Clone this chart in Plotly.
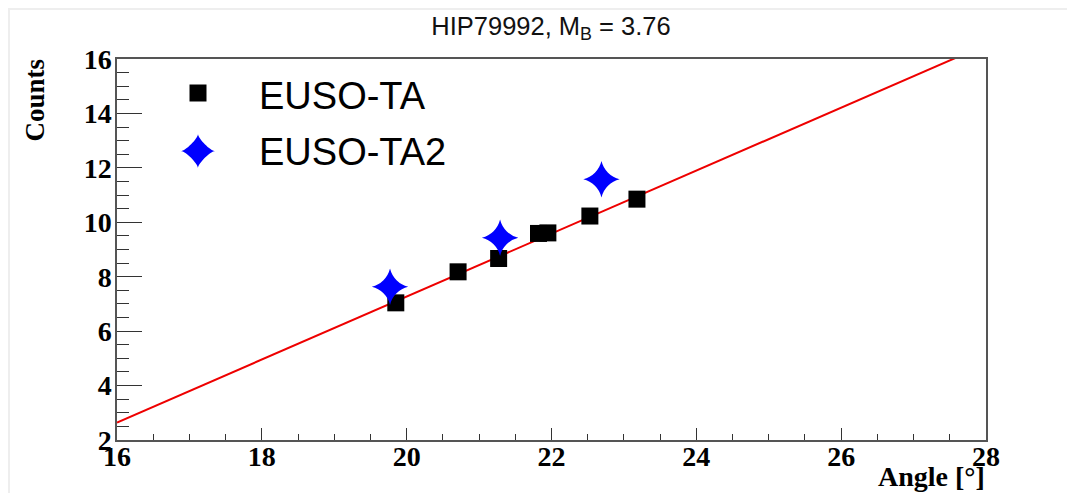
import numpy as np
import plotly.graph_objects as go

# ---- data ----
ta_angle = [19.85, 20.71, 21.27, 21.82, 21.95, 22.53, 23.18]
ta_counts = [7.04, 8.18, 8.67, 9.59, 9.61, 10.23, 10.85]
ta2_angle = [19.77, 21.29, 22.69]
ta2_counts = [7.63, 9.43, 11.58]
fit_slope = 1.157
fit_intercept = -15.87
fit_domain = [16, 28]
x_ticks = [16, 18, 20, 22, 24, 26, 28]
y_ticks = [2, 4, 6, 8, 10, 12, 14, 16]
series_names = ["EUSO-TA", "EUSO-TA2"]
title_text = "HIP79992, M<sub>B</sub> = 3.76"

# ---- geometry (page pixels; the page body adds an 8 px offset) ----
OFF = 8
PAGE_W, PAGE_H = 1075, 493
W, H = PAGE_W - OFF, PAGE_H - OFF
PL, PR, PT, PB = 117, 986, 59, 440          # plot frame in page pixels
L, T = PL - OFF, PT - OFF
R, B = W - (PR - OFF), H - (PB - OFF)
pw, ph = PR - PL, PB - PT


def px_x(px):
    return (px - PL) / pw


def px_y(py):
    return (PB - py) / ph


SERIF = "Liberation Serif"
SANS = "Liberation Sans"

fit_x = np.linspace(fit_domain[0], fit_domain[1], 50)
fit_y = fit_slope * fit_x + fit_intercept

fig = go.Figure()
fig.add_trace(go.Scatter(x=fit_x, y=fit_y, mode="lines", name="fit",
                         line=dict(color="#ee0000", width=2), showlegend=False,
                         hoverinfo="skip"))
fig.add_trace(go.Scatter(x=ta_angle, y=ta_counts, mode="markers", name=series_names[0],
                         marker=dict(symbol="square", size=17, color="black"),
                         showlegend=False, cliponaxis=False))
fig.add_trace(go.Scatter(x=ta2_angle, y=ta2_counts, mode="markers", name=series_names[1],
                         marker=dict(symbol="star-diamond", size=26, color="#0000ff"),
                         showlegend=False, cliponaxis=False))

axis_common = dict(showgrid=False, zeroline=False, showline=True, mirror=True,
                   linecolor="#555555", linewidth=1.5, ticks="inside",
                   tickcolor="#333333", tickwidth=1.2,
                   tickfont=dict(family=SERIF, size=28, color="black", weight="bold"))

fig.update_xaxes(range=[16, 28], tickmode="array", tickvals=x_ticks,
                 ticktext=[str(v) for v in x_ticks], ticklen=12, ticklabelstandoff=-9,
                 minor=dict(dtick=0.5, ticks="inside", ticklen=6, tickcolor="#333333",
                            tickwidth=1.2, showgrid=False),
                 **axis_common)
fig.update_yaxes(range=[2, 16], tickmode="array", tickvals=y_ticks,
                 ticktext=[str(v) for v in y_ticks], ticklen=25, ticklabelstandoff=-2,
                 minor=dict(dtick=0.5, ticks="inside", ticklen=12, tickcolor="#333333",
                            tickwidth=1.2, showgrid=False),
                 **axis_common)

# gray border strips of the canvas (left and top)
shapes = [
    dict(type="rect", xref="paper", yref="paper", x0=px_x(OFF - 2), x1=px_x(10),
         y0=px_y(PAGE_H + 5), y1=px_y(OFF - 2), fillcolor="#eeeeee", line=dict(width=0),
         layer="below"),
    dict(type="rect", xref="paper", yref="paper", x0=px_x(OFF - 2), x1=px_x(PAGE_W + 5),
         y0=px_y(10), y1=px_y(OFF - 2), fillcolor="#eeeeee", line=dict(width=0),
         layer="below"),
]

# legend symbols (pixel-sized shapes)
sq = 8.5
shapes.append(dict(type="rect", xref="paper", yref="paper", xsizemode="pixel", ysizemode="pixel",
                   xanchor=px_x(198), yanchor=px_y(93), x0=-sq, x1=sq, y0=-sq, y1=sq,
                   fillcolor="black", line=dict(width=0)))
rd, rc = 17.1, 12.6
star_path = (f"M{-rd},0 C{-rc},0 0,{rc} 0,{rd} C0,{rc} {rc},0 {rd},0 "
             f"C{rc},0 0,{-rc} 0,{-rd} C0,{-rc} {-rc},0 {-rd},0 Z")
shapes.append(dict(type="path", xref="paper", yref="paper", xsizemode="pixel", ysizemode="pixel",
                   xanchor=px_x(198), yanchor=px_y(151), path=star_path,
                   fillcolor="#0000ff", line=dict(width=0)))

annotations = [
    dict(text=series_names[0], xref="paper", yref="paper", x=px_x(257), y=px_y(96),
         xanchor="left", yanchor="middle", showarrow=False,
         font=dict(family=SANS, size=38, color="black")),
    dict(text=series_names[1], xref="paper", yref="paper", x=px_x(257), y=px_y(152),
         xanchor="left", yanchor="middle", showarrow=False,
         font=dict(family=SANS, size=38, color="black")),
    dict(text="<b>Counts</b>", xref="paper", yref="paper", x=px_x(34), y=px_y(57),
         xanchor="center", yanchor="top", textangle=-90, showarrow=False,
         font=dict(family=SERIF, size=27, color="black")),
    dict(text="<b>Angle [°]</b>", xref="paper", yref="paper", x=px_x(987), y=px_y(477),
         xanchor="right", yanchor="middle", showarrow=False,
         font=dict(family=SERIF, size=28, color="black")),
]

fig.update_layout(
    width=W, height=H,
    margin=dict(l=L, r=R, t=T, b=B, pad=0),
    paper_bgcolor="white", plot_bgcolor="white",
    title=dict(text=title_text, x=px_x(551), xref="paper", xanchor="center",
               y=1 - (26 - OFF) / H, yref="container", yanchor="middle",
               font=dict(family=SANS, size=25.5, color="#111111")),
    shapes=shapes, annotations=annotations, showlegend=False,
)

fig.write_html("out.html")
